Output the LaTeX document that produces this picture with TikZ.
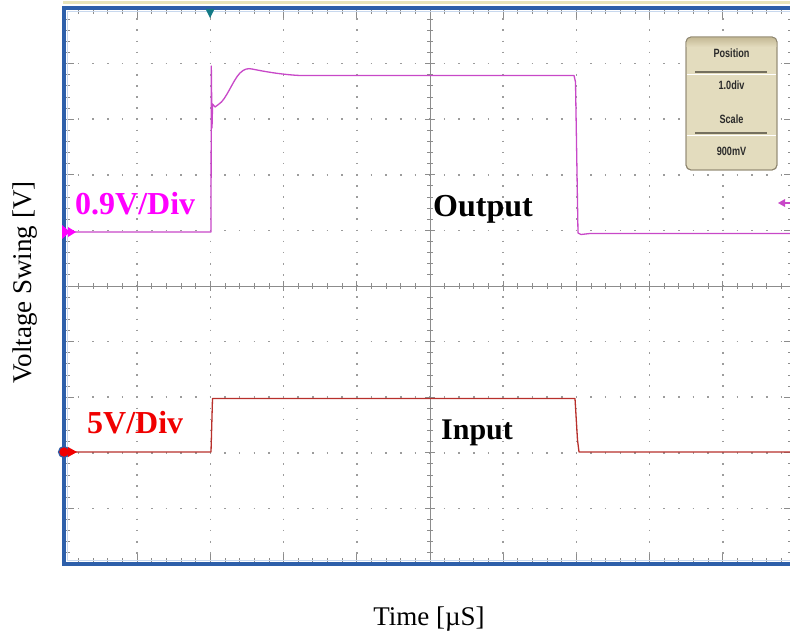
\documentclass[tikz,border=0pt]{standalone}
\usepackage{fontspec}
\usepackage{graphicx}
\setmainfont{Liberation Serif}
\setsansfont{Liberation Sans}
\definecolor{frameblue}{HTML}{2D5FAA}
\definecolor{innerblue}{HTML}{C8D8EE}
\definecolor{topyellow}{HTML}{E8E4BA}
\definecolor{gridgray}{HTML}{9C9C9C}
\definecolor{axisgray}{HTML}{8C8C8C}
\definecolor{outtrace}{HTML}{C848C8}
\definecolor{intrace}{HTML}{B8302C}
\definecolor{outlabel}{HTML}{FF00FF}
\definecolor{inlabel}{HTML}{F00000}
\definecolor{trigteal}{HTML}{137A86}
\definecolor{boxfill}{HTML}{E3DCBE}
\definecolor{boxtop}{HTML}{C4B894}
\definecolor{boxedge}{HTML}{8E8670}
\definecolor{boxline}{HTML}{75705E}
\definecolor{boxtextc}{HTML}{2A2A2A}
\begin{document}
\begin{tikzpicture}[x=1pt,y=-1pt,
  griddotv/.style={gridgray,line width=1.6pt,dash pattern=on 1.6pt off 9.52pt,dash phase=0.8pt},
  griddoth/.style={gridgray,line width=1.6pt,dash pattern=on 1.6pt off 13.04pt,dash phase=0.8pt},
  tickline/.style={axisgray,line width=0.9pt},
  biglabel/.style={inner sep=0pt,anchor=base west,font=\fontsize{32}{36}\selectfont\bfseries},
  axislabel/.style={inner sep=0pt,anchor=base,font=\fontsize{27}{30}\selectfont},
  boxtext/.style={inner sep=0pt,text=boxtextc,font=\sffamily\bfseries\fontsize{12}{14}\selectfont},
  trace/.style={line width=1.3pt,line join=round,line cap=round},
  ]
\useasboundingbox (0,0) rectangle (790,634);
\fill[white] (0,0) rectangle (790,634);
\begin{scope}
\clip (0,0) rectangle (790,634);
% dotted grid
\foreach \i in {1,2,3,4,6,7,8,9}{
  \pgfmathsetmacro{\gx}{64+\i*73.2}
  \pgfmathsetmacro{\gy}{8+\i*55.6}
  \draw[griddotv] (\gx,8) -- (\gx,564);
  \draw[griddoth] (64,\gy) -- (794,\gy);
}
% minor ticks
\foreach \k in {1,...,49}{
  \pgfmathsetmacro{\tx}{64+\k*14.64}
  \pgfmathsetmacro{\ty}{8+\k*11.12}
  \draw[tickline] (\tx,8) -- (\tx,14);
  \draw[tickline] (\tx,564) -- (\tx,558);
  \draw[tickline] (64,\ty) -- (70,\ty);
  \draw[tickline] (794,\ty) -- (788,\ty);
  \draw[tickline] (\tx,283) -- (\tx,289);
  \draw[tickline] (427,\ty) -- (433,\ty);
}
% major ticks
\foreach \i in {1,...,9}{
  \pgfmathsetmacro{\gx}{64+\i*73.2}
  \pgfmathsetmacro{\gy}{8+\i*55.6}
  \draw[tickline] (\gx,8) -- (\gx,18);
  \draw[tickline] (\gx,564) -- (\gx,554);
  \draw[tickline] (64,\gy) -- (74,\gy);
  \draw[tickline] (794,\gy) -- (784,\gy);
  \draw[tickline] (\gx,281) -- (\gx,291);
  \draw[tickline] (425,\gy) -- (435,\gy);
}
% centre axes
\draw[tickline] (430,8) -- (430,564);
\draw[tickline] (64,286) -- (794,286);
% frame
\draw[topyellow,line width=3pt] (63,3) -- (790,3);
\draw[innerblue,line width=1.6pt] (67.5,11.5) rectangle (790.5,560.5);
\draw[frameblue,line width=4pt] (64,8) rectangle (794,564);
% output trace
\draw[trace,outtrace] (70,232) -- (211,232) -- (211.3,66) -- (212,128) -- (212.6,104)
  -- (215,107) -- (219,104) .. controls (226,100) and (233,80) .. (240,73)
  .. controls (244,69) and (248,68) .. (252,69)
  .. controls (262,71) and (280,74.5) .. (300,75.5) -- (574,75.5) -- (575.5,82)
  -- (578,233) -- (581,234.5) -- (590,233.5) -- (790,233.5);
% input trace
\draw[trace,intrace] (75,452) -- (211,452) -- (212.5,398.5) -- (575,398.5)
  -- (577.5,440) -- (579,452) -- (790,452);
% markers
\fill[outlabel] (62,225) -- (70,232) -- (62,239) -- cycle;
\fill[outlabel] (68,227) -- (76,232) -- (68,237) -- cycle;
\filldraw[fill=inlabel,draw=frameblue,line width=1.2pt] (64,452) circle (5.5pt);
\fill[inlabel] (68,447) -- (77,452) -- (68,457) -- cycle;
\fill[trigteal] (205.5,9) -- (214.5,9) -- (210,18) -- cycle;
\draw[outtrace,line width=1.3pt] (790,203) -- (784,203);
\fill[outtrace] (778,203) -- (785,199) -- (785,207) -- cycle;
% settings box
\filldraw[fill=boxfill,draw=boxedge,line width=0.9pt,rounded corners=5pt] (686,37) rectangle (777,170);
\begin{scope}
\clip[rounded corners=5pt] (686,37) rectangle (777,170);
\shade[top color=boxtop,bottom color=boxfill] (686,37) rectangle (777,47);
\end{scope}
\draw[boxedge,line width=0.9pt,rounded corners=5pt] (686,37) rectangle (777,170);
\draw[white,line width=1.6pt] (687,74.5) -- (776,74.5);
\draw[boxline,line width=1.6pt] (695,72) -- (767,72);
\draw[white,line width=1.6pt] (687,135.5) -- (776,135.5);
\draw[boxline,line width=1.6pt] (695,133) -- (767,133);
\node[boxtext] (pos) at (731.5,53) {\scalebox{0.76}[1]{Position}};
\node[boxtext] (posv) at (731.5,85) {\scalebox{0.76}[1]{1.0div}};
\node[boxtext] (sc) at (731.5,119) {\scalebox{0.76}[1]{Scale}};
\node[boxtext] (scv) at (731.5,151) {\scalebox{0.76}[1]{900mV}};
% labels
\node[biglabel,text=outlabel] (outdiv) at (75,214) {0.9V/Div};
\node[biglabel] (outlbl) at (433,216) {Output};
\node[biglabel,text=inlabel] (indiv) at (87,433) {5V/Div};
\node[biglabel,font=\fontsize{30}{34}\selectfont\bfseries] (inlbl) at (441,439) {Input};
\end{scope}
\node[axislabel,rotate=90] (ylab) at (31,282.5) {Voltage Swing [V]};
\node[axislabel] (xlab) at (429,625) {Time [µS]};
\end{tikzpicture}
\end{document}
